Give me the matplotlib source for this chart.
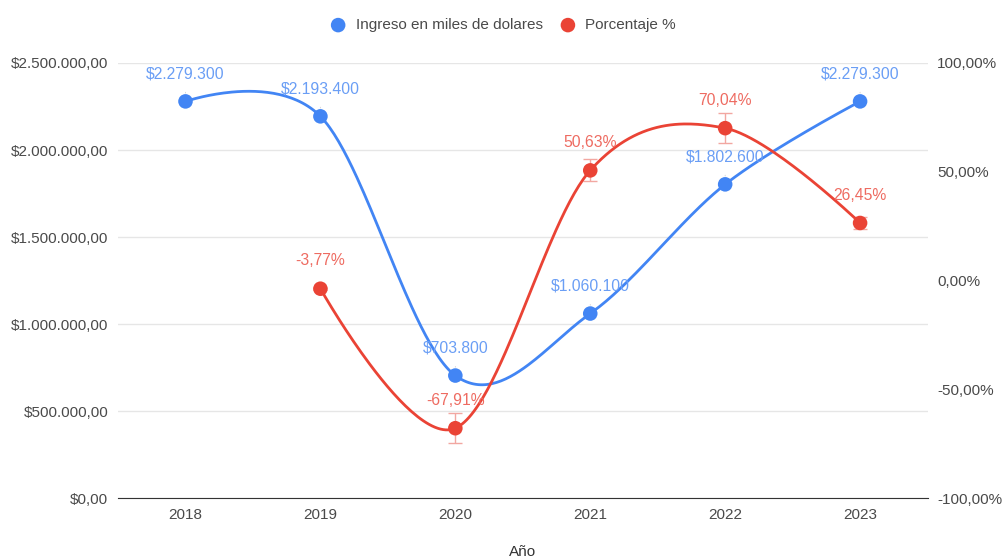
import numpy as np
import matplotlib
matplotlib.use("Agg")
import matplotlib.pyplot as plt
from matplotlib.ticker import FuncFormatter

plt.rcParams["font.family"] = ["Liberation Sans", "DejaVu Sans"]

years = ["2018", "2019", "2020", "2021", "2022", "2023"]
ingreso = [2279300, 2193400, 703800, 1060100, 1802600, 2279300]
porcentaje = [np.nan, -3.77, -67.91, 50.63, 70.04, 26.45]

BLUE = "#4285F4"
RED = "#EA4335"
BLUE_TXT = "#6A9EF5"
RED_TXT = "#EE6B61"


def smooth(xs, ys, n=60):
    # bezier through points, control points from neighbours (chart-style smoothing)
    pts = [(x, y) for x, y in zip(xs, ys) if not np.isnan(y)]
    pts = np.array(pts, dtype=float)
    k = len(pts)
    tang = np.zeros_like(pts)
    for i in range(1, k - 1):
        tang[i] = (pts[i + 1] - pts[i - 1]) / 6.0
    out = []
    for i in range(k - 1):
        p0, p3 = pts[i], pts[i + 1]
        p1 = p0 + tang[i]
        p2 = p3 - tang[i + 1]
        t = np.linspace(0, 1, n)[:, None]
        seg = ((1 - t) ** 3) * p0 + 3 * ((1 - t) ** 2) * t * p1 + 3 * (1 - t) * t ** 2 * p2 + t ** 3 * p3
        out.append(seg)
    out = np.vstack(out)
    return out[:, 0], out[:, 1]


def money(v):
    s = f"{int(round(v)):,}".replace(",", ".")
    return "$" + s


fig = plt.figure(figsize=(10.02, 5.58), dpi=100)
ax = fig.add_axes([0.1178, 0.1075, 0.8079, 0.7796])
ax2 = ax.twinx()

x = np.arange(len(years))

# blue series
sx, sy = smooth(x, ingreso)
ax.plot(sx, sy, color=BLUE, lw=2, zorder=3)
ax.scatter(x, ingreso, s=110, color=BLUE, zorder=4, edgecolors="none")
for xi, v in zip(x, ingreso):
    ax.annotate(money(v), (xi, v), xytext=(0, 20), textcoords="offset points",
                ha="center", va="center", color=BLUE_TXT, fontsize=11.3, zorder=5,
                arrowprops=dict(arrowstyle="-", color="#d0d0d0", lw=0.6, shrinkA=6, shrinkB=6))

# red series
rx, ry = smooth(x, porcentaje)
ax2.plot(rx, ry, color=RED, lw=2, zorder=3)
err = [abs(v) * 0.1 if not np.isnan(v) else np.nan for v in porcentaje]
ax2.errorbar(x, porcentaje, yerr=err, fmt="none", ecolor="#F2A7A1", elinewidth=1,
             capsize=5, capthick=1, zorder=2)
ax2.scatter(x, porcentaje, s=110, color=RED, zorder=4, edgecolors="none")
for xi, v in zip(x, porcentaje):
    if np.isnan(v):
        continue
    ax2.annotate(f"{v:.2f}%".replace(".", ","), (xi, v), xytext=(0, 20),
                 textcoords="offset points", ha="center", va="center",
                 color=RED_TXT, fontsize=11.3, zorder=5)

ax.set_xlim(-0.5, len(years) - 0.5)
ax.set_ylim(0, 2500000)
ax2.set_ylim(-100, 100)
ax.set_yticks(np.arange(0, 2500001, 500000))
ax2.set_yticks(np.arange(-100, 101, 50))
ax.yaxis.set_major_formatter(FuncFormatter(
    lambda v, p: "$" + f"{v:,.2f}".replace(",", "X").replace(".", ",").replace("X", ".")))
ax2.yaxis.set_major_formatter(FuncFormatter(lambda v, p: f"{v:.2f}%".replace(".", ",")))
ax.set_xticks(x)
ax.set_xticklabels(years)

ax.grid(axis="y", color="#e6e6e6", lw=1)
ax.set_axisbelow(True)
for a in (ax, ax2):
    for side in ("top", "left", "right"):
        a.spines[side].set_visible(False)
    a.spines["bottom"].set_color("#333333")
    a.tick_params(length=0, labelsize=11, colors="#4a4a4a")
ax2.spines["bottom"].set_visible(False)
ax.tick_params(axis="y", pad=7)
ax2.tick_params(axis="y", pad=7)
ax.tick_params(axis="x", pad=7)

ax.set_xlabel("Año", fontsize=11, color="#333333", labelpad=17)

# legend
h1 = ax.scatter([], [], s=110, color=BLUE, edgecolors="none")
h2 = ax.scatter([], [], s=110, color=RED, edgecolors="none")
fig.legend([h1, h2], ["Ingreso en miles de dolares", "Porcentaje %"], loc="center",
           bbox_to_anchor=(0.4985, 0.955), ncol=2, frameon=False, fontsize=11,
           handletextpad=0.15, columnspacing=0.65, labelcolor="#4a4a4a")

fig.savefig("out.png", dpi=100)
